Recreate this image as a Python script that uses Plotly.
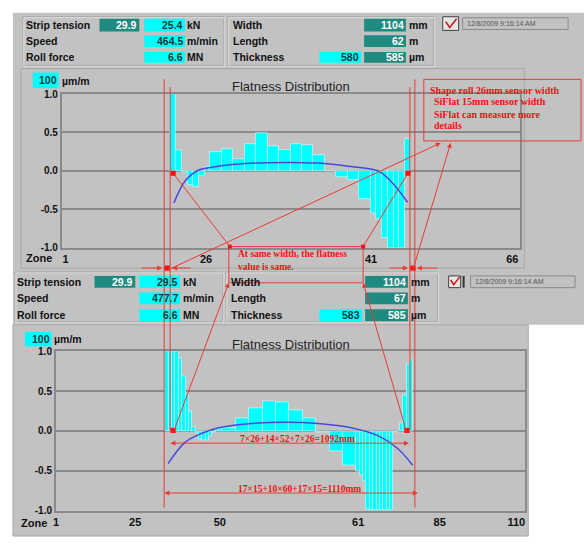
import plotly.graph_objects as go
import numpy as np

W, H = 584, 544

# ---------------- data ----------------
top_zone_widths_mm = [26] * 7 + [52] * 14 + [26] * 7
top_flatness = [1.0, 0.27, -0.02, -0.18, -0.21, -0.07, 0.05,
                0.25, 0.28, 0.15, 0.35, 0.49, 0.32, 0.27, 0.35, 0.34, 0.20, 0.0, -0.08, -0.12, -0.37,
                -0.55, -0.63, -0.88, -1.0, -1.0, -1.0, 0.41]
top_curve_mm = [17, 69, 130, 175, 295, 446, 672, 823, 944, 1004, 1079]
top_curve_val = [-0.42, -0.13, 0.01, 0.04, 0.085, 0.106, 0.10, 0.055, 0.0, -0.14, -0.41]
top_tick_mm = [-475, 163, 913, 1555]
top_tick_text = ["1", "26", "41", "66"]

bot_zone_widths_mm = [15] * 17 + [60] * 10 + [15] * 17
bot_flatness = [1.0, 1.0, 1.0, 1.0, 0.91, 0.69, 0.46, 0.25, 0.05, -0.03, -0.10, -0.12, -0.12, -0.07, -0.02, 0.02, 0.03,
                0.04, 0.155, 0.29, 0.375, 0.36, 0.26, 0.155, -0.02, -0.25, -0.43,
                -0.50, -0.55, -0.63, -0.98, -1.0, -1.0, -1.0, -1.0, -1.0, -1.0, -1.0, -0.02, 0.0, 0.10, 0.45, 0.84, 0.89]
bot_curve_mm = [13, 90, 165, 239, 388, 536, 685, 833, 952, 1041, 1108]
bot_curve_val = [-0.41, -0.14, -0.03, 0.04, 0.094, 0.11, 0.094, 0.04, -0.06, -0.22, -0.43]
bot_tick_mm = [-489, -134, 245, 864, 1229, 1572]
bot_tick_text = ["1", "25", "50", "61", "85", "110"]

y_ticks = [-1.0, -0.5, 0.0, 0.5, 1.0]
y_tick_text = ["-1.0", "-0.5", "0.0", "0.5", "1.0"]

header_labels_left = ["Strip tension", "Speed", "Roll force"]
header_labels_right = ["Width", "Length", "Thickness"]
top_ref_tension = "29.9"
top_left_values = ["25.4", "464.5", "6.6"]
top_left_units = ["kN", "m/min", "MN"]
top_right_values = ["1104", "62", "585"]
top_right_units = ["mm", "m", "µm"]
top_thick_target = "580"
bot_ref_tension = "29.9"
bot_left_values = ["29.5", "477.7", "6.6"]
bot_right_values = ["1104", "67", "585"]
bot_thick_target = "583"
timestamp = "12/8/2009 9:16:14 AM"

# ---------------- helpers ----------------
SANS = "Liberation Sans, Arial, sans-serif"
SERIF = "Liberation Serif, Times New Roman, serif"
GRAY = "#c2c2c2"
TEAL = "#1f8a80"
CYAN = "#00ffff"
RED = "#e83a34"
RTXT = "#ee1111"

shapes, annos = [], []


def px(x):
    return x / W


def py(y):
    return 1 - y / H


def rect(x0, y0, x1, y1, fill=None, line=None, lw=1, layer="below"):
    shapes.append(dict(type="rect", xref="paper", yref="paper",
                       x0=px(x0), x1=px(x1), y0=py(y1), y1=py(y0),
                       fillcolor=fill or "rgba(0,0,0,0)",
                       line=dict(color=line or "rgba(0,0,0,0)", width=lw if line else 0),
                       layer=layer))


def seg(x0, y0, x1, y1, color=RED, lw=1, layer="above"):
    shapes.append(dict(type="line", xref="paper", yref="paper",
                       x0=px(x0), x1=px(x1), y0=py(y0), y1=py(y1),
                       line=dict(color=color, width=lw), layer=layer))


def txt(x, y, s, size=10.5, color="#111", xa="left", ya="middle", family=SANS, bold=False):
    annos.append(dict(xref="paper", yref="paper", x=px(x), y=py(y), text=("<b>%s</b>" % s) if bold else s,
                      showarrow=False, xanchor=xa, yanchor=ya,
                      font=dict(size=size, color=color, family=family), borderpad=0))


def arrow(tx, ty, hx, hy, color=RED, both=False):
    d = dict(xref="paper", yref="paper", x=px(hx), y=py(hy), ax=tx - hx, ay=ty - hy,
             text="", showarrow=True, arrowhead=2, arrowsize=1, arrowwidth=1, arrowcolor=color,
             standoff=0, startstandoff=0)
    if both:
        d["arrowside"] = "end+start"
        d["startarrowhead"] = 2
        d["startarrowsize"] = 1
    annos.append(d)


def dot(x, y, s=2.6):
    rect(x - s, y - s, x + s, y + s, fill="#ff1010", layer="above")


def vbox(x0, y0, x1, y1, fill, s, tc):
    rect(x0, y0, x1, y1, fill=fill)
    txt(x1 - 1, (y0 + y1) / 2, s, size=10.5, color=tc, xa="right", bold=True)


# ---------------- backgrounds ----------------
rect(10, 7, 584, 270, fill=GRAY)
rect(10, 270, 584, 326, fill=GRAY)
rect(10, 326, 528, 542, fill=GRAY)

# top header
rect(20, 11, 222, 61, line="#a6a6a6")
rect(21, 12, 223, 62, line="#dedede")
rect(226, 11, 433, 61, line="#a6a6a6")
rect(227, 12, 434, 62, line="#dedede")
rows_top = [19, 36, 52]
boxes_top = [(13, 26), (30, 42), (47, 58)]
for i in range(3):
    txt(22, rows_top[i], header_labels_left[i], bold=True)
    txt(230, rows_top[i], header_labels_right[i], bold=True)
    vbox(142, boxes_top[i][0], 183, boxes_top[i][1], CYAN, top_left_values[i], "#0b3a3a")
    txt(184, rows_top[i], top_left_units[i], bold=True)
    vbox(363, boxes_top[i][0], 405, boxes_top[i][1], TEAL, top_right_values[i], "white")
    txt(407, rows_top[i], top_right_units[i], bold=True)
vbox(97, 13, 137, 26, TEAL, top_ref_tension, "white")
vbox(318, 47, 360, 58, CYAN, top_thick_target, "#0b3a3a")
rect(442, 11, 458, 25, fill="#e6e6e6", line="#404040")
shapes.append(dict(type="path", xref="paper", yref="paper",
                   path="M %f %f L %f %f L %f %f" % (px(445), py(16), px(449), py(22), px(456), py(13)),
                   line=dict(color="#d01010", width=1.5), layer="below"))
rect(462, 12, 568, 24, line="#8a8a8a")
txt(465, 18, timestamp, size=7, color="#555")

# top chart panel
rect(18, 64, 524, 268, line="#a8a8a8")
rect(30, 68, 56, 84, fill=CYAN)
txt(55, 76, "100", size=10.5, color="#0b3a3a", xa="right", bold=True)
txt(58, 77, "µm/m", size=10.5, bold=True)
txt(289, 82, "Flatness Distribution", size=13, color="#222", xa="center")
txt(22, 258, "Zone", size=11, bold=True)

# bottom header
rect(12, 272, 221, 323, line="#a6a6a6")
rect(13, 273, 222, 324, line="#dedede")
rect(224, 272, 437, 323, line="#a6a6a6")
rect(225, 273, 438, 324, line="#dedede")
rows_bot = [282, 299, 316]
boxes_bot = [(276, 288), (293, 305), (310, 322)]
for i in range(3):
    txt(13, rows_bot[i], header_labels_left[i], bold=True)
    txt(228, rows_bot[i], header_labels_right[i], bold=True)
    vbox(137, boxes_bot[i][0], 178, boxes_bot[i][1], CYAN, bot_left_values[i], "#0b3a3a")
    txt(180, rows_bot[i], top_left_units[i], bold=True)
    vbox(364, boxes_bot[i][0], 407, boxes_bot[i][1], TEAL, bot_right_values[i], "white")
    txt(409, rows_bot[i], top_right_units[i], bold=True)
vbox(92, 276, 133, 288, TEAL, bot_ref_tension, "white")
vbox(318, 310, 361, 322, CYAN, bot_thick_target, "#0b3a3a")
rect(448, 276, 460, 288, fill="#e6e6e6", line="#404040")
shapes.append(dict(type="path", xref="paper", yref="paper",
                   path="M %f %f L %f %f L %f %f" % (px(450), py(280), px(453), py(285), px(459), py(277)),
                   line=dict(color="#d01010", width=1.5), layer="below"))
seg(463, 276, 463, 288, color="#333", lw=2, layer="below")
rect(470, 276, 575, 288, line="#8a8a8a")
txt(473, 282, timestamp, size=7, color="#555")

# bottom chart panel
rect(10, 326, 528, 542, line="#a8a8a8")
rect(22, 333, 49, 348, fill=CYAN)
txt(48, 341, "100", size=10.5, color="#0b3a3a", xa="right", bold=True)
txt(50, 341, "µm/m", size=10.5, bold=True)
txt(289, 346, "Flatness Distribution", size=13, color="#222", xa="center")
txt(17, 529, "Zone", size=11, bold=True)

# ---------------- red overlay ----------------
seg(162, 75, 162, 513)
seg(168, 83, 168, 434)
seg(409, 83, 409, 434)
seg(414, 75, 414, 513)
seg(171, 171, 228, 246)
seg(407, 171, 362, 246)
rect(227, 246, 362, 283, line=RED, layer="above")
rect(423, 75, 581, 138, line=RED, layer="above")
arrow(171, 434, 227, 283)
arrow(406, 434, 362, 283)
arrow(165, 268, 440, 140)
arrow(412, 268, 450, 140)
arrow(138, 268, 160, 268)
arrow(190, 268, 170, 268)
arrow(387, 268, 407, 268)
arrow(438, 268, 416, 268)
arrow(168, 447, 408, 447, both=True)
arrow(162, 498, 417, 498, both=True)
for (x, y) in [(171, 171), (407, 171), (171, 434), (406, 434), (165, 268), (412, 268)]:
    dot(x, y)
for (x, y) in [(228, 246), (362, 246)]:
    dot(x, y, 2)

txt(235, 254, "At same width, the flatness", size=9.5, color=RTXT, family=SERIF, bold=True)
txt(235, 267, "value is same.", size=9.5, color=RTXT, family=SERIF, bold=True)
txt(428, 86, "Shape roll 26mm sensor width", size=10, color=RTXT, family=SERIF, bold=True)
txt(432, 98, "SiFlat 15mm sensor width", size=10, color=RTXT, family=SERIF, bold=True)
txt(432, 111, "SiFlat can measure more", size=10, color=RTXT, family=SERIF, bold=True)
txt(432, 122, "details", size=10, color=RTXT, family=SERIF, bold=True)
txt(296, 443, "7×26+14×52+7×26=1092mm", size=9.5, color=RTXT, xa="center", family=SERIF, bold=True)
txt(298, 494, "17×15+10×60+17×15=1110mm", size=9.5, color=RTXT, xa="center", family=SERIF, bold=True)

# ---------------- traces ----------------
def centers(widths):
    w = np.array(widths, dtype=float)
    e = np.concatenate([[0.0], np.cumsum(w)])
    return (e[:-1] + w / 2).tolist(), w.tolist()


tc, tw = centers(top_zone_widths_mm)
bc, bw = centers(bot_zone_widths_mm)

fig = go.Figure()
bar_line = dict(color="rgba(225,255,255,0.95)", width=0.6)
fig.add_trace(go.Bar(x=tc, y=top_flatness, width=tw, marker=dict(color=CYAN, line=bar_line),
                     xaxis="x", yaxis="y", showlegend=False))
fig.add_trace(go.Scatter(x=top_curve_mm, y=top_curve_val, mode="lines", line=dict(color="#4848e0", width=1.5, shape="spline"),
                         xaxis="x", yaxis="y", showlegend=False))
fig.add_trace(go.Bar(x=bc, y=bot_flatness, width=bw, marker=dict(color=CYAN, line=bar_line),
                     xaxis="x2", yaxis="y2", showlegend=False))
fig.add_trace(go.Scatter(x=bot_curve_mm, y=bot_curve_val, mode="lines", line=dict(color="#4848e0", width=1.5, shape="spline"),
                         xaxis="x2", yaxis="y2", showlegend=False))

# pixel geometry of plot areas
T_L, T_R, T_T, T_B, T_X0, T_S = 59, 520, 90, 247, 168, 0.2212
B_L, B_R, B_T, B_B, B_X0, B_S = 53, 525, 353, 516, 163, 0.2245

ax_common = dict(showline=True, linecolor="#8a8a8a", linewidth=1.5, mirror=True, ticks="",
                 tickfont=dict(size=11, family=SANS, color="#111", weight="bold"), fixedrange=True)
y_common = dict(ax_common, range=[-1, 1], tickvals=y_ticks, ticktext=y_tick_text, showgrid=True,
                gridcolor="#8a8a8a", gridwidth=1.5, zeroline=False,
                tickfont=dict(size=10, family=SANS, color="#111", weight="bold"))

fig.update_layout(
    width=W, height=H, margin=dict(l=0, r=0, t=0, b=0),
    paper_bgcolor="white", plot_bgcolor="rgba(0,0,0,0)",
    bargap=0, showlegend=False,
    xaxis=dict(ax_common, domain=[px(T_L), px(T_R)],
               range=[(T_L - T_X0) / T_S, (T_R - T_X0) / T_S],
               tickvals=top_tick_mm, ticktext=top_tick_text, showgrid=False, zeroline=False, anchor="y"),
    yaxis=dict(y_common, domain=[py(T_B), py(T_T)], anchor="x"),
    xaxis2=dict(ax_common, domain=[px(B_L), px(B_R)],
                range=[(B_L - B_X0) / B_S, (B_R - B_X0) / B_S],
                tickvals=bot_tick_mm, ticktext=bot_tick_text, showgrid=False, zeroline=False, anchor="y2"),
    yaxis2=dict(y_common, domain=[py(B_B), py(B_T)], anchor="x2"),
    shapes=shapes, annotations=annos,
)

fig.write_html("out.html", config={"responsive": False, "displayModeBar": False},
               post_script="document.body.style.margin='0';document.body.style.overflow='hidden';")
